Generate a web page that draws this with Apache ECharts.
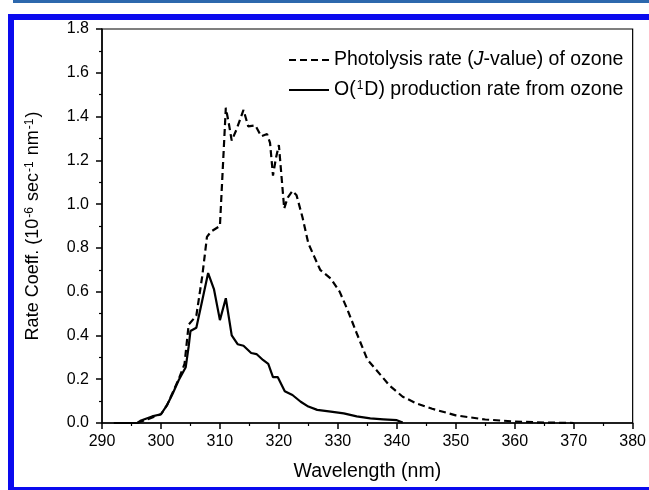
<!DOCTYPE html>
<html>
<head>
<meta charset="utf-8">
<script src="https://cdn.jsdelivr.net/npm/echarts@6/dist/echarts.min.js"></script>
<style>
  html, body { margin: 0; padding: 0; background: #fff; }
  #chart { width: 649px; height: 490px; }
</style>
</head>
<body>
<div id="chart"></div>
<script>
// photolysis rate (J-value) of ozone, dashed
const jWavelength = [296, 298, 300, 301, 302, 303, 304, 304.7, 306, 307, 307.8, 308.5, 310, 311, 311.5, 312, 312.8, 314, 314.8, 316, 317, 318, 318.5, 319, 319.5, 320, 320.9, 321.5, 322.3, 323, 324, 325, 326, 327, 328.8, 330.3, 331.6, 333.2, 335, 336.6, 338.8, 341, 343.3, 346, 350, 355, 360, 365, 370];
const jValue = [0, 0.02, 0.04, 0.08, 0.14, 0.2, 0.27, 0.45, 0.49, 0.67, 0.85, 0.875, 0.9, 1.44, 1.37, 1.29, 1.34, 1.43, 1.355, 1.36, 1.31, 1.32, 1.28, 1.13, 1.21, 1.27, 0.98, 1.03, 1.06, 1.04, 0.94, 0.82, 0.76, 0.70, 0.66, 0.6, 0.52, 0.41, 0.29, 0.24, 0.17, 0.12, 0.09, 0.065, 0.035, 0.016, 0.007, 0.002, 0];

// O(1D) production rate, solid
const o1dWavelength = [292, 296, 296.5, 298.5, 300, 301, 302, 303, 304.2, 304.7, 305, 306, 307, 308, 309, 310, 311, 312, 313, 314, 315.3, 316.2, 317.3, 318.2, 319, 319.8, 321, 322.3, 323.7, 325, 326.5, 328.8, 331, 333.2, 335.5, 337.7, 340, 341];
const o1dValue = [0, 0, 0.01, 0.03, 0.04, 0.08, 0.135, 0.195, 0.255, 0.35, 0.42, 0.435, 0.56, 0.685, 0.61, 0.47, 0.57, 0.40, 0.36, 0.353, 0.32, 0.315, 0.288, 0.27, 0.21, 0.21, 0.145, 0.128, 0.097, 0.075, 0.06, 0.052, 0.044, 0.03, 0.021, 0.017, 0.013, 0.002];

const xTicks = [290, 380, 10];   // min, max, step
const yTicks = [0, 1.8, 0.2];

const seriesNames = ['{a|Photolysis rate (}{i|J}{a|-value) of ozone}', '{a|O(}{s|1}{a|D) production rate from ozone}'];

function pairs(xs, ys) {
  return xs.map((x, i) => [x, ys[i]]);
}

const chart = echarts.init(document.getElementById('chart'));
const font = 'Liberation Sans, Arial, sans-serif';

chart.setOption({
  animation: false,
  backgroundColor: '#fff',
  textStyle: { fontFamily: font },
  grid: { left: 102, right: 10, top: 29, bottom: 67, show: true, borderColor: '#000', borderWidth: 1.2 },
  graphic: [
    { type: 'rect', shape: { x: 13, y: 0, width: 636, height: 3 }, style: { fill: '#2d68ad' } },
    { type: 'rect', shape: { x: 8, y: 14, width: 641, height: 6 }, style: { fill: '#0a0aee' } },
    { type: 'rect', shape: { x: 8, y: 14, width: 6, height: 476 }, style: { fill: '#0a0aee' } },
    { type: 'rect', shape: { x: 8, y: 487, width: 641, height: 3 }, style: { fill: '#0a0aee' } }
  ],
  legend: {
    orient: 'vertical',
    left: 283,
    top: 45,
    itemWidth: 40,
    itemHeight: 14,
    itemGap: 10,
    itemStyle: { opacity: 0 },
    data: ['jv', 'o1d'],
    formatter: function (name) {
      return name === 'jv' ? seriesNames[0] : seriesNames[1];
    },
    textStyle: {
      color: '#000',
      rich: {
        a: { fontSize: 19.5, fontFamily: font, color: '#000' },
        i: { fontSize: 19.5, fontFamily: font, fontStyle: 'italic', color: '#000' },
        s: { fontSize: 12, fontFamily: font, color: '#000', verticalAlign: 'top', padding: [0, 1, 0, 1] }
      }
    }
  },
  xAxis: {
    type: 'value',
    min: xTicks[0],
    max: xTicks[1],
    interval: xTicks[2],
    name: 'Wavelength (nm)',
    nameLocation: 'middle',
    nameGap: 39,
    nameTextStyle: { fontSize: 19.5, color: '#000', fontFamily: font },
    axisLine: { lineStyle: { color: '#000', width: 1.5 } },
    axisTick: { length: 6, lineStyle: { color: '#000', width: 1.5 } },
    minorTick: { show: true, splitNumber: 2, length: 3, lineStyle: { color: '#000', width: 1.2 } },
    axisLabel: { fontSize: 16, color: '#000', margin: 11, fontFamily: font },
    splitLine: { show: false }
  },
  yAxis: {
    type: 'value',
    min: yTicks[0],
    max: yTicks[1],
    interval: yTicks[2],
    name: '{a|Rate Coeff. (10}{s|-6}{a| sec}{s|-1}{a| nm}{s|-1}{a|)}',
    nameLocation: 'middle',
    nameGap: 60,
    nameRotate: 90,
    nameTextStyle: {
      color: '#000',
      rich: {
        a: { fontSize: 18, fontFamily: font, color: '#000' },
        s: { fontSize: 12, fontFamily: font, color: '#000', verticalAlign: 'top', padding: [0, 1, 0, 1] }
      }
    },
    axisLine: { show: true, lineStyle: { color: '#000', width: 1.5 } },
    axisTick: { show: true, length: 6, lineStyle: { color: '#000', width: 1.5 } },
    minorTick: { show: true, splitNumber: 2, length: 3, lineStyle: { color: '#000', width: 1.2 } },
    axisLabel: { fontSize: 16, color: '#000', margin: 13, fontFamily: font, formatter: v => v.toFixed(1) },
    splitLine: { show: false }
  },
  series: [
    {
      name: 'jv',
      type: 'line',
      data: pairs(jWavelength, jValue),
      showSymbol: false,
      symbol: 'none',
      lineStyle: { color: '#000', width: 2.2, type: [7, 4] },
      itemStyle: { color: '#000' },
      z: 3
    },
    {
      name: 'o1d',
      type: 'line',
      data: pairs(o1dWavelength, o1dValue),
      showSymbol: false,
      symbol: 'none',
      lineStyle: { color: '#000', width: 2.2 },
      itemStyle: { color: '#000' },
      z: 4
    }
  ]
});
</script>
</body>
</html>
